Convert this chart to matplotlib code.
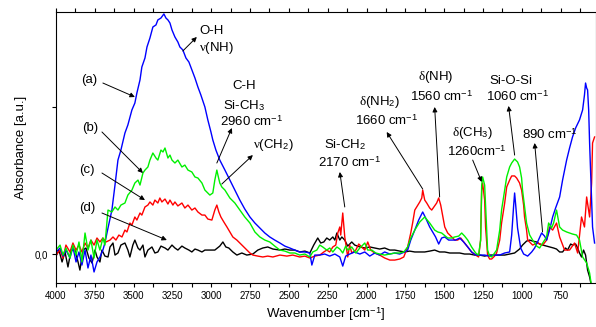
import numpy as np
from matplotlib import pyplot as plt
from matplotlib.ticker import MultipleLocator

plt.rcParams['font.family'] = ['Liberation Sans', 'DejaVu Sans']
plt.rcParams['mathtext.fontset'] = 'custom'
plt.rcParams['mathtext.rm'] = 'Liberation Sans'
plt.rcParams['mathtext.it'] = 'Liberation Serif'

# (a) blue
wn_a = [4000, 3974, 3955, 3936, 3910, 3891, 3871, 3852, 3833, 3813, 3794, 3775, 3755, 3736, 3717, 3698,
        3685, 3665, 3640, 3620, 3601, 3582, 3556, 3537, 3511, 3492, 3479, 3459, 3447, 3427, 3414, 3395,
        3376, 3356, 3344, 3324, 3305, 3292, 3279, 3266, 3253, 3234, 3215, 3202, 3183, 3163, 3144, 3125,
        3105, 3086, 3067, 3041, 3022, 3002, 2990, 2970, 2945, 2912, 2880, 2848, 2816, 2784, 2751, 2719,
        2687, 2655, 2623, 2591, 2558, 2526, 2494, 2462, 2430, 2397, 2365, 2352, 2333, 2301, 2269, 2237,
        2204, 2172, 2153, 2134, 2108, 2076, 2043, 2011, 1979, 1947, 1915, 1883, 1850, 1818, 1786, 1754,
        1735, 1715, 1689, 1664, 1638, 1619, 1593, 1574, 1555, 1535, 1516, 1496, 1471, 1451, 1426, 1400,
        1374, 1348, 1323, 1297, 1271, 1239, 1207, 1175, 1142, 1110, 1078, 1065, 1052, 1046, 1039, 1027,
        1007, 988, 962, 936, 917, 898, 872, 853, 840, 821, 801, 782, 756, 737, 711, 692,
        673, 653, 628, 608, 596, 589, 582, 576, 569, 563, 550, 544, 531]
ab_a = [0.014, 0.041, -0.014, 0.027, -0.027, 0.048, -0.054, 0.014, -0.075, 0.027, -0.095, -0.007, -0.122, -0.054, -0.020, 0.027,
        0.075, 0.177, 0.299, 0.469, 0.639, 0.707, 0.823, 0.878, 0.980, 1.027, 1.095, 1.184, 1.272, 1.333, 1.408, 1.469,
        1.544, 1.558, 1.592, 1.605, 1.633, 1.605, 1.592, 1.571, 1.524, 1.476, 1.442, 1.408, 1.388, 1.333, 1.306, 1.252,
        1.197, 1.136, 1.082, 1.000, 0.912, 0.830, 0.776, 0.707, 0.639, 0.571, 0.503, 0.435, 0.367, 0.306, 0.252, 0.211,
        0.177, 0.143, 0.116, 0.095, 0.075, 0.054, 0.041, 0.027, 0.014, 0.014, 0.007, -0.075, -0.007, -0.007, 0.0, -0.014,
        0.0, -0.020, -0.082, -0.014, 0.0, 0.014, 0.0, 0.014, -0.014, 0.007, -0.007, 0.014, 0.0, 0.007, 0.0, 0.014,
        0.027, 0.095, 0.163, 0.231, 0.286, 0.245, 0.184, 0.150, 0.116, 0.068, 0.109, 0.116, 0.095, 0.095, 0.095, 0.109,
        0.082, 0.048, 0.014, -0.007, -0.007, -0.007, -0.014, -0.007, -0.007, 0.007, 0.014, 0.129, 0.333, 0.415, 0.333, 0.177,
        0.041, 0.0, -0.014, 0.014, 0.041, 0.082, 0.143, 0.122, 0.095, 0.163, 0.252, 0.313, 0.388, 0.503, 0.639, 0.721,
        0.796, 0.857, 0.912, 0.980, 1.082, 1.163, 1.129, 1.116, 0.980, 0.755, 0.367, 0.184, 0.075]

# (b) green
wn_b = [4000, 3974, 3955, 3936, 3910, 3891, 3871, 3852, 3833, 3813, 3794, 3775, 3755, 3736, 3717, 3698,
        3685, 3665, 3640, 3620, 3601, 3582, 3556, 3537, 3511, 3492, 3472, 3459, 3440, 3427, 3408, 3395,
        3376, 3356, 3344, 3324, 3311, 3298, 3279, 3266, 3253, 3234, 3215, 3189, 3170, 3150, 3125, 3105,
        3086, 3060, 3041, 3022, 3009, 2990, 2977, 2964, 2957, 2945, 2932, 2912, 2880, 2848, 2816, 2784,
        2751, 2719, 2687, 2655, 2623, 2591, 2558, 2526, 2494, 2462, 2430, 2397, 2365, 2346, 2320, 2301,
        2282, 2256, 2237, 2217, 2191, 2172, 2153, 2134, 2121, 2095, 2069, 2043, 2011, 1992, 1966, 1940,
        1915, 1883, 1850, 1818, 1786, 1760, 1735, 1715, 1689, 1657, 1625, 1593, 1561, 1541, 1516, 1477,
        1451, 1432, 1406, 1387, 1368, 1348, 1323, 1297, 1278, 1265, 1258, 1252, 1239, 1233, 1226, 1220,
        1207, 1194, 1175, 1162, 1142, 1130, 1110, 1097, 1078, 1065, 1046, 1027, 1014, 1001, 995, 982,
        969, 949, 930, 904, 885, 865, 840, 827, 808, 795, 776, 756, 737, 711, 692, 673,
        647, 628, 608, 582, 563, 550]
ab_b = [0.027, 0.061, -0.007, 0.041, -0.027, 0.061, -0.007, 0.082, -0.054, 0.143, 0.027, 0.095, -0.027, 0.095, 0.027, 0.109,
        0.061, 0.299, 0.286, 0.320, 0.299, 0.333, 0.347, 0.401, 0.435, 0.483, 0.503, 0.469, 0.551, 0.571, 0.592, 0.639,
        0.687, 0.653, 0.639, 0.707, 0.694, 0.721, 0.653, 0.673, 0.639, 0.619, 0.639, 0.592, 0.605, 0.571, 0.558, 0.524,
        0.517, 0.483, 0.435, 0.415, 0.401, 0.415, 0.503, 0.571, 0.537, 0.483, 0.456, 0.435, 0.381, 0.347, 0.299, 0.252,
        0.211, 0.150, 0.116, 0.095, 0.082, 0.054, 0.027, 0.020, 0.007, 0.007, -0.007, 0.0, -0.020, 0.014, 0.027, 0.061,
        0.048, 0.027, 0.041, 0.014, 0.048, 0.034, 0.007, 0.054, 0.027, 0.048, 0.007, 0.041, 0.075, 0.027, 0.027, 0.007,
        0.0, -0.007, 0.0, 0.007, 0.007, 0.014, 0.048, 0.109, 0.163, 0.218, 0.252, 0.211, 0.163, 0.150, 0.143, 0.109,
        0.109, 0.116, 0.122, 0.143, 0.122, 0.095, 0.048, 0.007, -0.007, 0.095, 0.469, 0.524, 0.469, 0.333, 0.184, 0.027,
        -0.014, -0.020, 0.007, 0.027, 0.163, 0.299, 0.435, 0.524, 0.592, 0.619, 0.646, 0.626, 0.592, 0.517, 0.435, 0.320,
        0.211, 0.129, 0.095, 0.054, 0.041, 0.075, 0.116, 0.211, 0.177, 0.211, 0.299, 0.184, 0.163, 0.150, 0.143, 0.136,
        0.129, 0.095, -0.020, -0.061, -0.129, -0.224]

# (c) red
wn_c = [4000, 3974, 3955, 3936, 3910, 3891, 3871, 3852, 3833, 3813, 3794, 3775, 3755, 3736, 3717, 3698,
        3678, 3652, 3633, 3614, 3595, 3575, 3556, 3543, 3524, 3511, 3492, 3479, 3459, 3447, 3427, 3408,
        3395, 3376, 3363, 3344, 3331, 3318, 3298, 3279, 3266, 3247, 3234, 3215, 3189, 3170, 3150, 3125,
        3105, 3086, 3060, 3041, 3022, 2996, 2977, 2964, 2951, 2938, 2919, 2899, 2880, 2861, 2835, 2816,
        2790, 2771, 2751, 2732, 2700, 2668, 2636, 2603, 2558, 2513, 2475, 2430, 2397, 2365, 2333, 2301,
        2275, 2256, 2237, 2217, 2198, 2185, 2172, 2166, 2153, 2140, 2121, 2108, 2095, 2069, 2050, 2031,
        2011, 1992, 1973, 1947, 1915, 1883, 1850, 1818, 1786, 1760, 1735, 1715, 1703, 1689, 1677, 1657,
        1644, 1638, 1625, 1612, 1593, 1580, 1561, 1548, 1535, 1522, 1516, 1496, 1477, 1451, 1432, 1413,
        1393, 1374, 1348, 1323, 1297, 1278, 1265, 1258, 1252, 1239, 1233, 1220, 1207, 1194, 1175, 1162,
        1142, 1130, 1110, 1097, 1078, 1065, 1046, 1033, 1014, 1001, 988, 982, 969, 962, 930, 898,
        865, 840, 821, 801, 776, 756, 724, 692, 660, 640, 615, 596, 582, 563, 550, 544, 531]
ab_c = [-0.007, 0.027, -0.027, 0.061, 0.014, 0.075, 0.027, 0.061, 0.014, 0.075, 0.041, 0.095, 0.061, 0.109, 0.082, 0.109,
        0.082, 0.095, 0.116, 0.095, 0.129, 0.116, 0.163, 0.150, 0.211, 0.197, 0.252, 0.231, 0.279, 0.265, 0.320, 0.333,
        0.354, 0.333, 0.367, 0.347, 0.381, 0.354, 0.374, 0.340, 0.367, 0.333, 0.354, 0.327, 0.347, 0.313, 0.333, 0.299,
        0.313, 0.286, 0.265, 0.265, 0.238, 0.231, 0.299, 0.333, 0.286, 0.252, 0.218, 0.184, 0.150, 0.116, 0.095, 0.075,
        0.048, 0.027, 0.007, -0.007, -0.014, -0.020, -0.014, -0.020, -0.007, -0.014, -0.007, -0.020, -0.014, -0.027, -0.014, -0.007,
        0.014, 0.027, 0.014, 0.048, 0.061, 0.143, 0.184, 0.129, 0.279, 0.116, -0.020, 0.061, 0.007, 0.027, 0.068, 0.048,
        0.027, 0.082, 0.027, 0.007, -0.007, -0.027, -0.041, -0.041, -0.034, -0.020, 0.048, 0.143, 0.211, 0.299, 0.320, 0.354,
        0.381, 0.435, 0.367, 0.347, 0.313, 0.299, 0.327, 0.347, 0.381, 0.333, 0.299, 0.184, 0.143, 0.116, 0.095, 0.095,
        0.109, 0.082, 0.048, 0.014, -0.007, -0.020, 0.095, 0.435, 0.483, 0.367, 0.184, -0.007, -0.034, -0.034, -0.014, 0.007,
        0.095, 0.211, 0.347, 0.456, 0.503, 0.531, 0.531, 0.517, 0.483, 0.435, 0.333, 0.252, 0.163, 0.095, 0.061, 0.075,
        0.061, 0.095, 0.184, 0.163, 0.211, 0.116, 0.027, 0.027, 0.075, 0.007, 0.252, 0.184, 0.388, 0.252, 0.483, 0.755, 0.796]

# (d) black
wn_d = [4000, 3981, 3961, 3942, 3923, 3903, 3878, 3858, 3846, 3826, 3807, 3788, 3768, 3749, 3736, 3717,
        3704, 3685, 3665, 3652, 3633, 3620, 3601, 3582, 3556, 3537, 3524, 3505, 3492, 3472, 3459, 3440,
        3427, 3408, 3382, 3363, 3344, 3324, 3298, 3279, 3253, 3234, 3215, 3189, 3170, 3144, 3125, 3105,
        3086, 3060, 3041, 3009, 2977, 2945, 2925, 2906, 2887, 2861, 2835, 2803, 2771, 2732, 2700, 2668,
        2636, 2603, 2558, 2526, 2494, 2462, 2430, 2397, 2365, 2340, 2314, 2295, 2275, 2256, 2237, 2217,
        2204, 2191, 2172, 2159, 2140, 2121, 2095, 2076, 2043, 2011, 1979, 1947, 1915, 1883, 1850, 1818,
        1786, 1754, 1722, 1689, 1657, 1625, 1593, 1561, 1529, 1496, 1464, 1432, 1400, 1368, 1336, 1303,
        1271, 1239, 1207, 1175, 1142, 1110, 1078, 1046, 1014, 995, 969, 949, 930, 904, 885, 865,
        840, 821, 795, 776, 756, 737, 718, 705, 685, 673, 653, 640, 628, 615, 602, 589,
        576, 563, 550]
ab_d = [-0.014, 0.027, -0.054, 0.014, -0.088, 0.027, 0.027, -0.054, -0.109, 0.027, 0.041, -0.027, -0.061, 0.027, -0.020, -0.054,
        0.027, -0.014, -0.020, 0.048, 0.075, -0.007, 0.007, 0.061, 0.075, 0.027, -0.020, 0.061, 0.095, 0.041, 0.027, 0.061,
        -0.020, 0.027, 0.048, 0.007, 0.014, 0.054, 0.041, 0.027, 0.061, 0.041, 0.027, 0.054, 0.041, 0.027, 0.014, 0.034,
        0.027, 0.014, 0.027, 0.027, 0.027, 0.054, 0.082, 0.048, 0.041, 0.014, -0.007, 0.007, -0.007, 0.0, 0.027, 0.041,
        0.048, 0.034, 0.027, 0.034, 0.027, 0.027, 0.014, 0.020, 0.007, 0.061, 0.109, 0.075, 0.082, 0.109, 0.095, 0.116,
        0.095, 0.143, 0.095, 0.116, 0.095, 0.054, 0.082, 0.061, 0.048, 0.041, 0.048, 0.041, 0.034, 0.041, 0.027, 0.027,
        0.020, 0.014, 0.020, 0.014, 0.014, 0.014, 0.020, 0.027, 0.014, 0.014, 0.007, 0.007, 0.007, 0.0, 0.0, -0.007,
        -0.007, -0.014, -0.007, -0.007, -0.007, -0.007, 0.0, 0.007, 0.034, 0.061, 0.088, 0.095, 0.088, 0.082, 0.068, 0.061,
        0.054, 0.048, 0.041, 0.034, 0.014, 0.014, 0.041, 0.027, 0.068, 0.061, 0.068, 0.041, 0.007, -0.020, 0.027, -0.007,
        -0.109, -0.156, -0.224]

xtick_vals = np.arange(750, 4001, 250)
ytick_vals = [0, 1]
ytick_labels = ['0,0', '']

fig = plt.figure(figsize=(5.96, 3.27), dpi=100)
ax = fig.add_axes([56/596, 44/327, 539.5/596, 271/327])

ax.plot(wn_d, ab_d, color='black', lw=1.0)
ax.plot(wn_c, ab_c, color='#ff0000', lw=1.0)
ax.plot(wn_a, ab_a, color='#0000ff', lw=1.0)
ax.plot(wn_b, ab_b, color='#00f000', lw=1.0)

ax.set_xlim(4000, 525)
ax.set_ylim(-0.197, 1.646)
ax.set_xticks(xtick_vals)
ax.xaxis.set_minor_locator(MultipleLocator(125))
ax.set_yticks(ytick_vals)
ax.set_yticklabels(ytick_labels)
ax.tick_params(which='both', direction='out', length=3, width=0.8, labelsize=7,
               top=True, right=True, pad=3)
ax.set_xlabel('Wavenumber [cm$^{-1}$]', fontsize=9.5, labelpad=3)
ax.set_ylabel('Absorbance [a.u.]', fontsize=9.5, labelpad=5)

arrow = dict(arrowstyle='-|>', color='black', lw=0.7, mutation_scale=7, shrinkA=0, shrinkB=0)
fs = 9.5

# curve labels
for lbl, tx, ty, ax0, ay0, ax1, ay1 in [
        ('(a)', 3788, 1.184, 3698, 1.163, 3492, 1.068),
        ('(b)', 3781, 0.857, 3704, 0.830, 3440, 0.551),
        ('(c)', 3800, 0.571, 3704, 0.551, 3427, 0.367),
        ('(d)', 3800, 0.313, 3704, 0.279, 3286, 0.095)]:
    ax.text(tx, ty, lbl, fontsize=fs, ha='center', va='center')
    ax.annotate('', xy=(ax1, ay1), xytext=(ax0, ay0), arrowprops=arrow)

# band labels
ax.text(2996, 1.517, 'O-H', fontsize=fs, ha='center', va='center')
ax.text(2964, 1.401, r'$\nu$(NH)', fontsize=fs, ha='center', va='center')
ax.annotate('', xy=(3093, 1.476), xytext=(3183, 1.381), arrowprops=arrow)

ax.text(2790, 1.143, 'C-H', fontsize=fs, ha='center', va='center')
ax.text(2790, 1.007, 'Si-CH$_3$', fontsize=fs, ha='center', va='center')
ax.text(2739, 0.898, '2960 cm$^{-1}$', fontsize=fs, ha='center', va='center')
ax.annotate('', xy=(2867, 0.857), xytext=(2964, 0.619), arrowprops=arrow)

ax.text(2603, 0.741, r'$\nu$(CH$_2$)', fontsize=fs, ha='center', va='center')
ax.annotate('', xy=(2732, 0.673), xytext=(2932, 0.476), arrowprops=arrow)

ax.text(2140, 0.741, 'Si-CH$_2$', fontsize=fs, ha='center', va='center')
ax.text(2108, 0.619, '2170 cm$^{-1}$', fontsize=fs, ha='center', va='center')
ax.annotate('', xy=(2172, 0.558), xytext=(2140, 0.320), arrowprops=arrow)

ax.text(1915, 1.034, r'$\delta$(NH$_2$)', fontsize=fs, ha='center', va='center')
ax.text(1870, 0.905, '1660 cm$^{-1}$', fontsize=fs, ha='center', va='center')
ax.annotate('', xy=(1870, 0.830), xytext=(1638, 0.442), arrowprops=arrow)

ax.text(1554, 1.204, r'$\delta$(NH)', fontsize=fs, ha='center', va='center')
ax.text(1516, 1.068, '1560 cm$^{-1}$', fontsize=fs, ha='center', va='center')
ax.annotate('', xy=(1561, 1.0), xytext=(1529, 0.388), arrowprops=arrow)

ax.text(1316, 0.823, r'$\delta$(CH$_3$)', fontsize=fs, ha='center', va='center')
ax.text(1290, 0.694, '1260cm$^{-1}$', fontsize=fs, ha='center', va='center')
ax.annotate('', xy=(1258, 0.490), xytext=(1316, 0.639), arrowprops=arrow)

ax.text(1072, 1.177, 'Si-O-Si', fontsize=fs, ha='center', va='center')
ax.text(1027, 1.068, '1060 cm$^{-1}$', fontsize=fs, ha='center', va='center')
ax.annotate('', xy=(1085, 1.007), xytext=(1046, 0.673), arrowprops=arrow)

ax.text(821, 0.810, '890 cm$^{-1}$', fontsize=fs, ha='center', va='center')
ax.annotate('', xy=(917, 0.755), xytext=(866, 0.150), arrowprops=arrow)

plt.savefig('out.png', dpi=100)
